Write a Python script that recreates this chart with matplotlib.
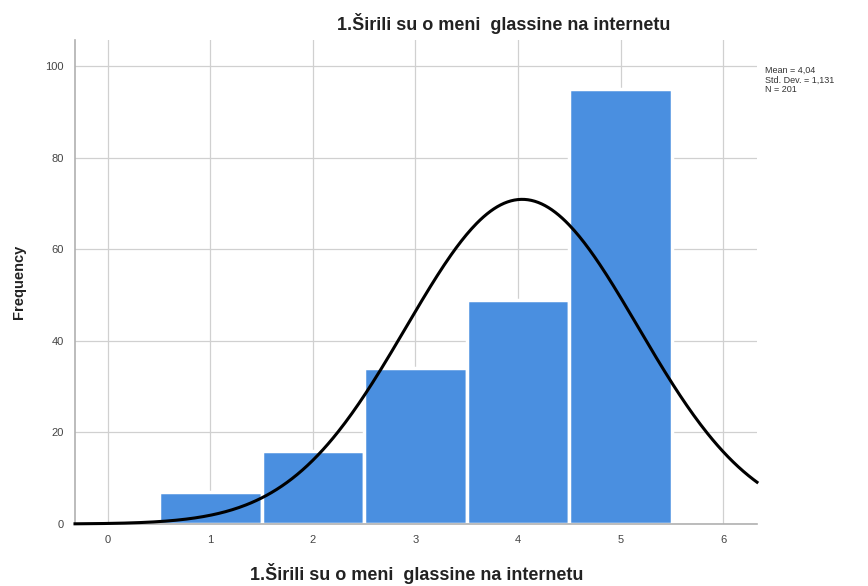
import numpy as np
import matplotlib
matplotlib.use("Agg")
import matplotlib.pyplot as plt

plt.rcParams['font.family'] = ['Liberation Sans', 'DejaVu Sans']

categories = [1, 2, 3, 4, 5]
frequencies = [7, 16, 34, 49, 95]
mean_val = 4.04
std_val = 1.131
n_val = 201
title = "1.Širili su o meni  glassine na internetu"
x_ticks = [0, 1, 2, 3, 4, 5, 6]
y_ticks = [0, 20, 40, 60, 80, 100]

fig = plt.figure(figsize=(8.68, 5.86), dpi=100)
ax = fig.add_axes([75/868, 1 - 524/586, (757-75)/868, (524-40)/586])

ax.bar(categories, frequencies, width=1.0, color='#4a8fe0', edgecolor='white', linewidth=2.5, zorder=2)

xs = np.linspace(-0.32, 6.33, 400)
ys = n_val * 1.0 / (std_val * np.sqrt(2*np.pi)) * np.exp(-0.5*((xs-mean_val)/std_val)**2)
ax.plot(xs, ys, color='black', linewidth=2.2, zorder=3, clip_on=False)

ax.set_xlim(-0.32, 6.33)
ax.set_ylim(0, 105.7)
ax.set_xticks(x_ticks)
ax.set_yticks(y_ticks)
ax.grid(True, color='#d0d0d0', linewidth=0.9, zorder=0)
ax.set_axisbelow(True)
for s in ['top', 'right']:
    ax.spines[s].set_visible(False)
for s in ['left', 'bottom']:
    ax.spines[s].set_color('#b0b0b0')
    ax.spines[s].set_linewidth(1.2)
ax.tick_params(axis='both', length=0, labelsize=8, colors='#444444', pad=8)

ax.set_ylabel('Frequency', fontsize=10.5, fontweight='bold', color='#222222', labelpad=14)
fig.text(417/868, 1 - 573/586, title, ha='center', va='center', fontsize=13, fontweight='bold', color='#222222')
fig.text(504/868, 1 - 24/586, title, ha='center', va='center', fontsize=13, fontweight='bold', color='#222222')
fig.text(765/868, 1 - 66/586, "Mean = 4,04\nStd. Dev. = 1,131\nN = 201", ha='left', va='top', fontsize=6.5, color='#333333', linespacing=1.1)

fig.savefig('out.png', dpi=100)
